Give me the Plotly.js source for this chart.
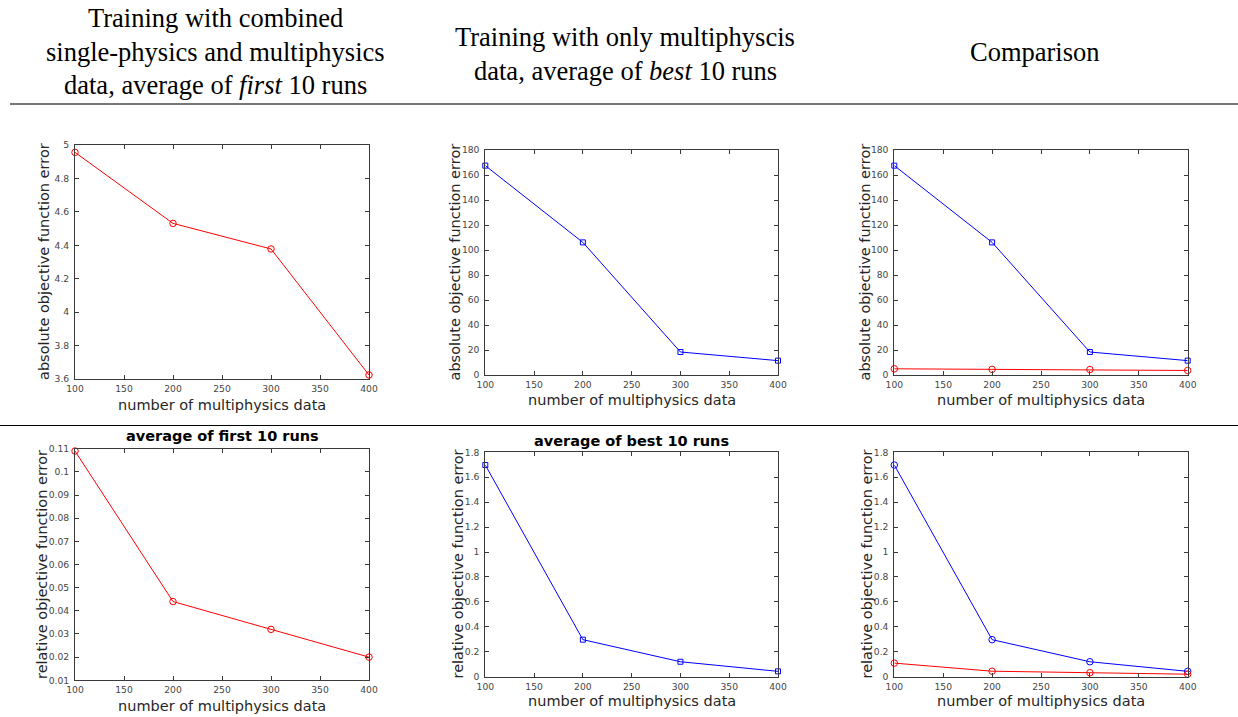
<!DOCTYPE html>
<html>
<head>
<meta charset="utf-8">
<script src="https://cdn.plot.ly/plotly-3.0.1.min.js"></script>
<style>
  html, body { margin: 0; padding: 0; background: #fff; }
  #chart { width: 1238px; height: 717px; }
</style>
</head>
<body>
<div id="chart"></div>
<script>
// ---- data ----
const nData = [100, 200, 300, 400];
const absCombinedFirst = [4.956, 4.531, 4.378, 3.624];
const absMultiBest = [167.5, 106.1, 18.4, 11.5];
const relCombinedFirst = [0.109, 0.044, 0.032, 0.020];
const relMultiBest = [1.698, 0.297, 0.120, 0.043];

const xTickVals = [100, 150, 200, 250, 300, 350, 400];
const xTitle = 'number of multiphysics data';
const yTitleAbs = 'absolute objective function error';
const yTitleRel = 'relative objective function error';
const colTitleLines = [
  ['Training with combined', 'single-physics and multiphysics', 'data, average of <i>first</i> 10 runs'],
  ['Training with only multiphyscis', 'data, average of <i>best</i> 10 runs'],
  ['Comparison']
];
const subTitles = ['average of first 10 runs', 'average of best 10 runs'];

// ---- layout helpers ----
const W = 1238, H = 717;
const px = v => v / W;
const py = v => 1 - v / H;

// panel boxes in pixels: [left, right, top, bottom]
const boxes = [
  [75, 369, 145, 379],
  [485.3, 778, 150, 375],
  [894.3, 1187.7, 150, 375],
  [75, 369, 448.7, 680.3],
  [485.3, 778, 452.3, 676.7],
  [894.3, 1187.7, 452.3, 676.7]
];
const yRanges = [[3.6, 5], [0, 180], [0, 180], [0.01, 0.11], [0, 1.8], [0, 1.8]];
const yDticks = [0.2, 20, 20, 0.01, 0.2, 0.2];

const RED = 'rgb(255,0,0)';
const BLUE = 'rgb(0,0,255)';
const AX = '#3a3a3a';
const TICKFONT = {family: 'DejaVu Sans, sans-serif', size: 9.2, color: '#454545'};
const LABFONT = {family: 'DejaVu Sans, sans-serif', size: 14.5, color: '#262626'};

function redCircle(xa, ya, y) {
  return {x: nData, y: y, xaxis: xa, yaxis: ya, type: 'scatter', mode: 'lines+markers',
    line: {color: RED, width: 1},
    marker: {symbol: 'circle-open', size: 6.5, color: RED, line: {width: 1, color: RED}},
    showlegend: false, cliponaxis: false};
}
function blueMark(xa, ya, y, sym, sz) {
  return {x: nData, y: y, xaxis: xa, yaxis: ya, type: 'scatter', mode: 'lines+markers',
    line: {color: BLUE, width: 1},
    marker: {symbol: sym, size: sz, color: BLUE, line: {width: 1, color: BLUE}},
    showlegend: false, cliponaxis: false};
}

const traces = [
  redCircle('x', 'y', absCombinedFirst),
  blueMark('x2', 'y2', absMultiBest, 'square-open', 5),
  blueMark('x3', 'y3', absMultiBest, 'square-open', 5),
  redCircle('x3', 'y3', absCombinedFirst),
  redCircle('x4', 'y4', relCombinedFirst),
  blueMark('x5', 'y5', relMultiBest, 'square-open', 5),
  blueMark('x6', 'y6', relMultiBest, 'circle-open', 6.5),
  redCircle('x6', 'y6', relCombinedFirst)
];

const layout = {
  width: W, height: H,
  margin: {l: 0, r: 0, t: 0, b: 0},
  paper_bgcolor: '#fff', plot_bgcolor: '#fff',
  showlegend: false,
  annotations: [],
  shapes: [
    {type: 'line', xref: 'paper', yref: 'paper', x0: px(10), x1: 1, y0: py(104), y1: py(104),
      line: {color: '#777', width: 2}},
    {type: 'line', xref: 'paper', yref: 'paper', x0: 0, x1: 1, y0: py(425.5), y1: py(425.5),
      line: {color: '#000', width: 1}}
  ]
};

boxes.forEach((b, i) => {
  const k = i === 0 ? '' : String(i + 1);
  layout['xaxis' + k] = {
    domain: [px(b[0]), px(b[1])], anchor: 'y' + k, range: [100, 400],
    tickvals: xTickVals, ticks: 'inside', ticklen: 4, tickcolor: AX, tickwidth: 1,
    showline: true, linecolor: AX, linewidth: 1, mirror: 'ticks',
    showgrid: false, zeroline: false, tickfont: TICKFONT, automargin: false,
    ticklabelstandoff: 1
  };
  layout['yaxis' + k] = {
    domain: [py(b[3]), py(b[2])], anchor: 'x' + k, range: yRanges[i],
    dtick: yDticks[i], ticks: 'inside', ticklen: 4, tickcolor: AX, tickwidth: 1,
    showline: true, linecolor: AX, linewidth: 1, mirror: 'ticks',
    showgrid: false, zeroline: false, tickfont: TICKFONT, automargin: false,
    ticklabelstandoff: 3
  };
});
layout.yaxis4.tickformat = '.2~f';

// axis titles as annotations (fixed positions)
const yTitleX = [44, 454, 864, 41.5, 457, 866];
const xTitleY = [405, 400, 400, 705.5, 701, 701];
boxes.forEach((b, i) => {
  layout.annotations.push({
    xref: 'paper', yref: 'paper', x: px((b[0] + b[1]) / 2), y: py(xTitleY[i]),
    text: xTitle, showarrow: false, xanchor: 'center', yanchor: 'middle', font: LABFONT
  });
  layout.annotations.push({
    xref: 'paper', yref: 'paper', x: px(yTitleX[i]), y: py((b[2] + b[3]) / 2),
    text: i < 3 ? yTitleAbs : yTitleRel, textangle: -90, showarrow: false,
    xanchor: 'center', yanchor: 'middle', font: LABFONT
  });
});

// bold subplot titles
layout.annotations.push({
  xref: 'paper', yref: 'paper', x: px(222), y: py(436), text: '<b>' + subTitles[0] + '</b>',
  showarrow: false, xanchor: 'center', yanchor: 'middle',
  font: {family: 'DejaVu Sans, sans-serif', size: 14.5, color: '#000'}
});
layout.annotations.push({
  xref: 'paper', yref: 'paper', x: px(631.7), y: py(440.5), text: '<b>' + subTitles[1] + '</b>',
  showarrow: false, xanchor: 'center', yanchor: 'middle',
  font: {family: 'DejaVu Sans, sans-serif', size: 14.5, color: '#000'}
});

// column headers, one annotation per line
const headX = [215, 625, 1035];
const headLineY = [[18.5, 52, 85], [37, 70.5], [52]];
colTitleLines.forEach((lines, i) => {
  lines.forEach((t, j) => {
    layout.annotations.push({
      xref: 'paper', yref: 'paper', x: px(headX[i]), y: py(headLineY[i][j]), text: t,
      showarrow: false, xanchor: 'center', yanchor: 'middle', align: 'center',
      font: {family: 'Liberation Serif, Times New Roman, serif', size: 26.5, color: '#000'}
    });
  });
});

Plotly.newPlot('chart', traces, layout, {staticPlot: true, displayModeBar: false});
</script>
</body>
</html>
